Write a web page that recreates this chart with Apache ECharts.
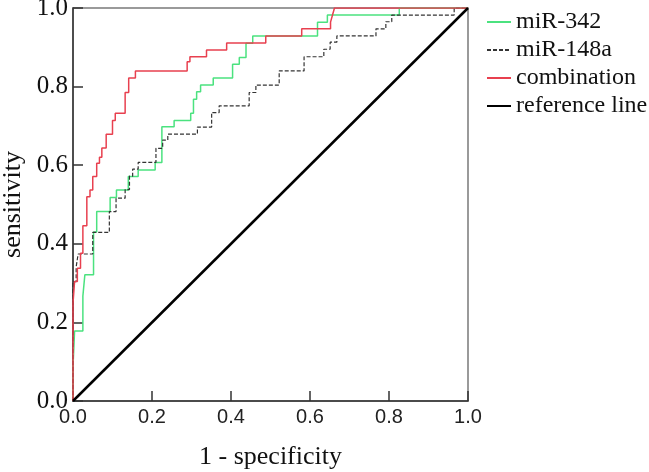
<!DOCTYPE html>
<html>
<head>
<meta charset="utf-8">
<script src="https://cdn.jsdelivr.net/npm/echarts@6/dist/echarts.min.js"></script>
<style>
  html, body { margin: 0; padding: 0; background: #fff; }
  #chart { width: 649px; height: 472px; }
</style>
</head>
<body>
<div id="chart"></div>
<script>
// ROC curves, points are the tops of each vertical step (1 - specificity, sensitivity)
const mir342Fpr = [0, 0, 0.004, 0.025, 0.030, 0.052, 0.060, 0.094, 0.110, 0.140, 0.165, 0.208, 0.225, 0.256, 0.298, 0.305, 0.313, 0.323, 0.355, 0.404, 0.421, 0.438, 0.455, 0.619, 0.644, 0.826, 1];
const mir342Tpr = [0, 0.087, 0.178, 0.267, 0.321, 0.430, 0.482, 0.518, 0.537, 0.571, 0.588, 0.607, 0.698, 0.714, 0.732, 0.768, 0.787, 0.804, 0.822, 0.857, 0.874, 0.910, 0.929, 0.964, 0.982, 1, 1];

const mir148aFpr = [0, 0, 0.008, 0.013, 0.050, 0.092, 0.109, 0.132, 0.143, 0.151, 0.165, 0.210, 0.227, 0.240, 0.315, 0.351, 0.370, 0.446, 0.463, 0.522, 0.585, 0.635, 0.651, 0.668, 0.767, 0.792, 0.807, 0.965, 1];
const mir148aTpr = [0, 0.304, 0.341, 0.374, 0.429, 0.482, 0.516, 0.538, 0.572, 0.590, 0.607, 0.643, 0.664, 0.679, 0.697, 0.734, 0.751, 0.785, 0.804, 0.840, 0.876, 0.895, 0.913, 0.929, 0.947, 0.965, 0.982, 1, 1];

const comboFpr = [0, 0, 0.004, 0.011, 0.019, 0.025, 0.035, 0.043, 0.050, 0.060, 0.067, 0.073, 0.084, 0.100, 0.107, 0.132, 0.141, 0.158, 0.289, 0.296, 0.338, 0.389, 0.488, 0.579, 0.652, 0.657, 0.662, 1];
const comboTpr = [0, 0.249, 0.304, 0.338, 0.376, 0.446, 0.520, 0.537, 0.571, 0.605, 0.620, 0.644, 0.679, 0.714, 0.732, 0.785, 0.822, 0.840, 0.863, 0.876, 0.893, 0.911, 0.929, 0.947, 0.964, 0.982, 1, 1];

const refFpr = [0, 1];
const refTpr = [0, 1];

const seriesNames = ['miR-342', 'miR-148a', 'combination', 'reference line'];
const tickLabels = ['0.0', '0.2', '0.4', '0.6', '0.8', '1.0'];

function pairs(xs, ys) {
  return xs.map((x, i) => [x, ys[i]]);
}

const serif = '"Liberation Serif", "Times New Roman", serif';
const chart = echarts.init(document.getElementById('chart'));

chart.setOption({
  animation: false,
  grid: {
    left: 73, top: 8, width: 395, height: 393,
    outerBoundsMode: 'none',
    show: true, borderColor: '#7a7a7a', borderWidth: 1.5, backgroundColor: 'transparent'
  },
  legend: {
    orient: 'vertical',
    left: 486,
    top: 10,
    padding: 0,
    itemWidth: 24,
    itemHeight: 14,
    itemGap: 4,
    itemStyle: { opacity: 0 },
    textStyle: { fontFamily: serif, fontSize: 24, lineHeight: 24, color: '#111' },
    data: seriesNames
  },
  xAxis: {
    type: 'value', min: 0, max: 1, interval: 0.2,
    name: '1 - specificity', nameLocation: 'middle', nameGap: 43,
    nameTextStyle: { fontFamily: serif, fontSize: 26, color: '#111' },
    axisLine: { lineStyle: { color: '#333', width: 1.5 } },
    axisTick: { inside: true, length: 10, lineStyle: { color: '#333', width: 1.5 } },
    axisLabel: {
      margin: 6, fontFamily: '"Liberation Sans", Arial, sans-serif', fontSize: 20, color: '#222',
      formatter: v => tickLabels[Math.round(v * 5)]
    },
    splitLine: { show: false }
  },
  yAxis: {
    type: 'value', min: 0, max: 1, interval: 0.2,
    name: 'sensitivity', nameLocation: 'middle', nameGap: 44,
    nameTextStyle: { fontFamily: serif, fontSize: 26, color: '#111' },
    axisLine: { lineStyle: { color: '#333', width: 1.5 } },
    axisTick: { inside: true, length: 10, lineStyle: { color: '#333', width: 1.5 } },
    axisLabel: {
      margin: 5, fontFamily: serif, fontSize: 25, color: '#111',
      formatter: v => tickLabels[Math.round(v * 5)]
    },
    splitLine: { show: false }
  },
  series: [
    {
      name: seriesNames[0], type: 'line', step: 'end', symbol: 'none',
      data: pairs(mir342Fpr, mir342Tpr),
      lineStyle: { color: '#4be27f', width: 1.5 }, itemStyle: { color: '#4be27f' }
    },
    {
      name: seriesNames[1], type: 'line', step: 'end', symbol: 'none',
      data: pairs(mir148aFpr, mir148aTpr),
      lineStyle: { color: '#333', width: 1.2, type: [4, 2] }, itemStyle: { color: '#333' }
    },
    {
      name: seriesNames[2], type: 'line', step: 'end', symbol: 'none',
      data: pairs(comboFpr, comboTpr),
      lineStyle: { color: '#e8404f', width: 1.5 }, itemStyle: { color: '#e8404f' }
    },
    {
      name: seriesNames[3], type: 'line', symbol: 'none',
      data: pairs(refFpr, refTpr),
      lineStyle: { color: '#000', width: 2.5 }, itemStyle: { color: '#000' }
    }
  ]
});
</script>
</body>
</html>
